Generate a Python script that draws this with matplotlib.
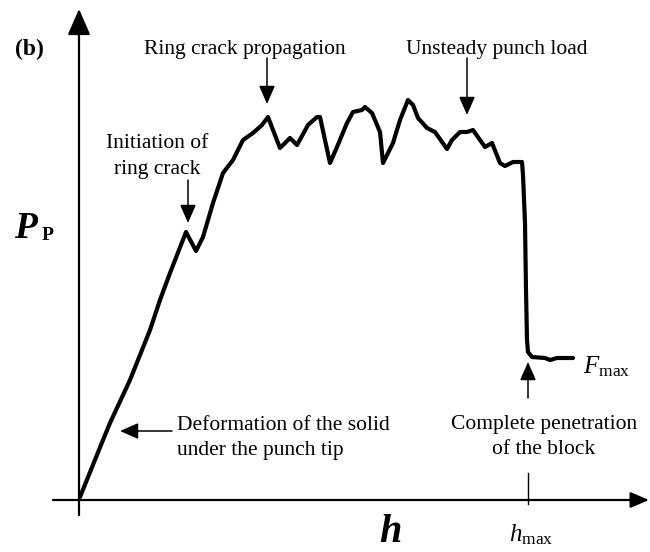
import matplotlib
matplotlib.use("Agg")
import matplotlib.pyplot as plt

plt.rcParams['font.family'] = ['Liberation Serif', 'DejaVu Serif']
plt.rcParams['mathtext.fontset'] = 'custom'
plt.rcParams['mathtext.rm'] = 'Liberation Serif'
plt.rcParams['mathtext.it'] = 'Liberation Serif:italic'
plt.rcParams['mathtext.bf'] = 'Liberation Serif:bold'

# Punch load vs. penetration depth (arbitrary units)
h_vals = [0.01, 0.24, 0.31, 0.51, 0.71, 0.81, 0.91, 1.07, 1.17, 1.24, 1.34, 1.44,
          1.54, 1.64, 1.74, 1.83, 1.89, 1.94, 2.01, 2.11, 2.18, 2.29, 2.38, 2.41,
          2.51, 2.58, 2.68, 2.74, 2.83, 2.86, 2.93, 3.01, 3.04, 3.14, 3.21, 3.29,
          3.34, 3.39, 3.48, 3.56, 3.68, 3.73, 3.81, 3.88, 3.94, 4.01, 4.06, 4.13,
          4.21, 4.26, 4.34, 4.43, 4.44, 4.46, 4.47, 4.48, 4.49, 4.53, 4.66, 4.71,
          4.78, 4.94]
P_vals = [0.03, 0.60, 0.77, 1.20, 1.70, 2.00, 2.27, 2.68, 2.49, 2.63, 2.97, 3.27,
          3.40, 3.60, 3.67, 3.75, 3.83, 3.70, 3.52, 3.62, 3.55, 3.75, 3.83, 3.83,
          3.37, 3.53, 3.77, 3.88, 3.90, 3.93, 3.87, 3.68, 3.37, 3.57, 3.80, 4.00,
          3.95, 3.82, 3.72, 3.68, 3.51, 3.60, 3.68, 3.68, 3.70, 3.60, 3.53, 3.57,
          3.37, 3.34, 3.38, 3.38, 3.25, 2.77, 2.10, 1.60, 1.48, 1.43, 1.42, 1.40,
          1.42, 1.42]
h_max = 4.49

labels = {
    'panel': '(b)',
    'ring_prop': 'Ring crack propagation',
    'unsteady': 'Unsteady punch load',
    'initiation': 'Initiation of\nring crack',
    'deformation': 'Deformation of the solid\nunder the punch tip',
    'complete': 'Complete penetration\nof the block',
}

fig = plt.figure(figsize=(6.5, 5.52), dpi=100)
ax = fig.add_axes([0, 0, 1, 1])
ax.set_xlim(-0.79, 5.71)
ax.set_ylim(-0.52, 5.00)
ax.axis('off')

# axes with arrows
ax.annotate('', xy=(5.70, 0), xytext=(-0.26, 0),
            arrowprops=dict(arrowstyle='-|>,head_length=0.7,head_width=0.3',
                            lw=1.6, color='black', mutation_scale=16,
                            shrinkA=0, shrinkB=0))
ax.annotate('', xy=(0, 4.91), xytext=(0, -0.15),
            arrowprops=dict(arrowstyle='-|>,head_length=0.8,head_width=0.35',
                            lw=1.6, color='black', mutation_scale=20,
                            shrinkA=0, shrinkB=0))
ax.plot([h_max, h_max], [-0.04, 0.27], color='black', lw=1.0)

# curve
ax.plot(h_vals, P_vals, color='black', lw=3.0, solid_joinstyle='round',
        solid_capstyle='round')

fs = 15.5
ls = 1.5
ap = dict(arrowstyle='-|>,head_length=0.8,head_width=0.35', lw=1.1,
          color='black', mutation_scale=14, shrinkA=0, shrinkB=0)

ax.text(-0.50, 4.51, labels['panel'], fontsize=17, fontweight='bold',
        ha='center', va='center')
ax.text(-0.65, 2.62, 'P', fontsize=27, fontweight='bold', style='italic',
        ha='left', va='baseline')
ax.text(-0.37, 2.60, 'P', fontsize=14, fontweight='bold', ha='left',
        va='baseline')

ax.text(1.66, 4.50, labels['ring_prop'], fontsize=fs, ha='center', va='center')
ax.annotate('', xy=(1.88, 3.96), xytext=(1.88, 4.42), arrowprops=ap)

ax.text(4.18, 4.50, labels['unsteady'], fontsize=fs, ha='center', va='center')
ax.annotate('', xy=(3.88, 3.85), xytext=(3.88, 4.42), arrowprops=ap)

ax.text(0.78, 3.43, labels['initiation'], fontsize=fs, ha='center', va='center',
        linespacing=ls)
ax.annotate('', xy=(1.09, 2.77), xytext=(1.09, 3.20), arrowprops=ap)

ax.text(0.98, 0.62, labels['deformation'], fontsize=fs, ha='left', va='center',
        linespacing=ls)
ax.annotate('', xy=(0.41, 0.69), xytext=(0.93, 0.69), arrowprops=ap)

ax.text(4.65, 0.63, labels['complete'], fontsize=fs, ha='center', va='center',
        linespacing=ls)
ax.annotate('', xy=(h_max, 1.38), xytext=(h_max, 1.02), arrowprops=ap)

ax.text(5.04, 1.33, r'$F_{\mathrm{max}}$', fontsize=18, ha='left', va='center')
ax.text(h_max + 0.03, -0.35, r'$h_{\mathrm{max}}$', fontsize=18, ha='center',
        va='center')
ax.text(3.11, -0.515, 'h', fontsize=29, fontweight='bold', style='italic',
        ha='center', va='bottom')

fig.savefig('out.png', dpi=100)
